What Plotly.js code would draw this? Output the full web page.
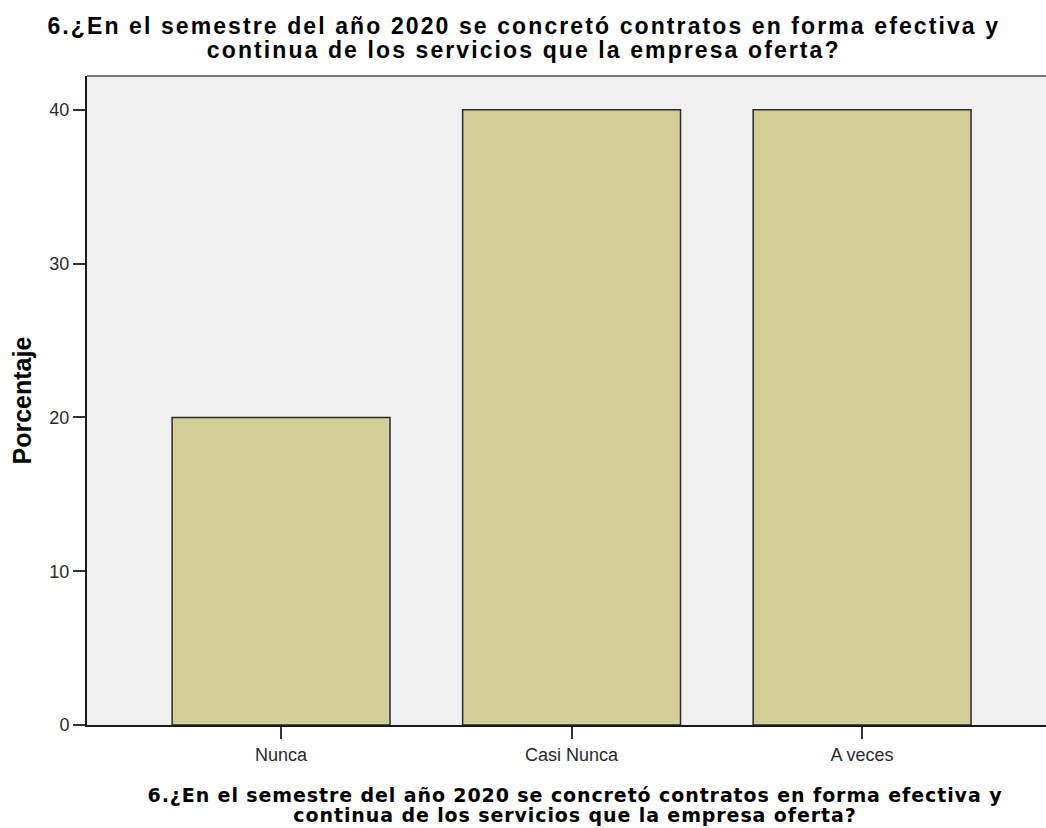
<!DOCTYPE html>
<html>
<head>
<meta charset="utf-8">
<script src="https://cdn.plot.ly/plotly-3.0.1.min.js"></script>
<style>html,body{margin:0;padding:0;background:#fff;}#chart{width:1046px;height:828px;}</style>
</head>
<body>
<div id="chart"></div>
<script>
var categories = ["Nunca", "Casi Nunca", "A veces"];
var percentages = [20, 40, 40];
var yTickValues = [0, 10, 20, 30, 40];
var titleLines = ["6.¿En el semestre del año 2020 se concretó contratos en forma efectiva y",
                  "continua de los servicios que la empresa oferta?"];
var yTitle = "Porcentaje";

var trace = {
  type: "bar",
  x: categories,
  y: percentages,
  width: 0.75,
  marker: {color: "#d3ce97", line: {color: "#2b2b2b", width: 1.5}},
  hoverinfo: "x+y"
};

var sans = "Liberation Sans, Arial, sans-serif";
var dv = "DejaVu Sans, Verdana, sans-serif";

var layout = {
  width: 1046, height: 828,
  margin: {l: 87, r: 0, t: 76, b: 103},
  paper_bgcolor: "#ffffff",
  plot_bgcolor: "#f0f0f0",
  showlegend: false,
  font: {family: sans, color: "#222"},
  xaxis: {
    type: "category",
    range: [-0.668, 2.633],
    showline: true, linecolor: "#1a1a1a", linewidth: 2,
    ticks: "outside", ticklen: 12, tickwidth: 2, tickcolor: "#333",
    tickfont: {size: 18, family: sans, color: "#2a2a2a"},
    showgrid: false, zeroline: false
  },
  yaxis: {
    range: [0, 42.2],
    tickvals: yTickValues,
    showline: true, linecolor: "#1a1a1a", linewidth: 2,
    ticks: "outside", ticklen: 12, tickwidth: 2, tickcolor: "#333",
    tickfont: {size: 18, family: sans, color: "#2a2a2a"},
    showgrid: false, zeroline: false
  },
  shapes: [{type: "line", xref: "paper", yref: "paper", x0: 0, x1: 1, y0: 1, y1: 1,
            line: {color: "#7a7a7a", width: 2}}],
  annotations: [
    {text: "<b>" + titleLines[0] + "<br>" + titleLines[1] + "</b>", xref: "paper", yref: "paper",
     x: 0.456, y: 1.0534, xanchor: "center", yanchor: "middle", align: "center", showarrow: false,
     font: {size: 23, family: sans, color: "#000"}},
    {text: "<b>" + titleLines[0] + "<br>" + titleLines[1] + "</b>", xref: "paper", yref: "paper",
     x: 0.509, y: -0.1277, xanchor: "center", yanchor: "middle", align: "center", showarrow: false,
     font: {size: 19, family: dv, color: "#000"}},
    {text: "<b>" + yTitle + "</b>", xref: "paper", yref: "paper", x: -0.0678, y: 0.5,
     xanchor: "center", yanchor: "middle", showarrow: false, textangle: -90,
     font: {size: 25, family: sans, color: "#000"}}
  ]
};

function tighten(idx, spacing, ratio) {
  var t = document.querySelector('.annotation[data-index="' + idx + '"] .annotation-text');
  if (!t) return;
  t.style.letterSpacing = spacing;
  var lines = t.querySelectorAll('tspan.line');
  for (var i = 1; i < lines.length; i++) {
    var dy = lines[i].getAttribute('dy');
    if (dy && dy.indexOf('em') > 0) {
      lines[i].setAttribute('dy', (parseFloat(dy) * ratio).toFixed(3) + 'em');
    }
  }
}

Plotly.newPlot("chart", [trace], layout, {displayModeBar: false, staticPlot: true}).then(function () {
  tighten(0, "2.1px", 24 / 29.9);
  tighten(1, "0.9px", 20 / 24.7);
});
</script>
</body>
</html>
